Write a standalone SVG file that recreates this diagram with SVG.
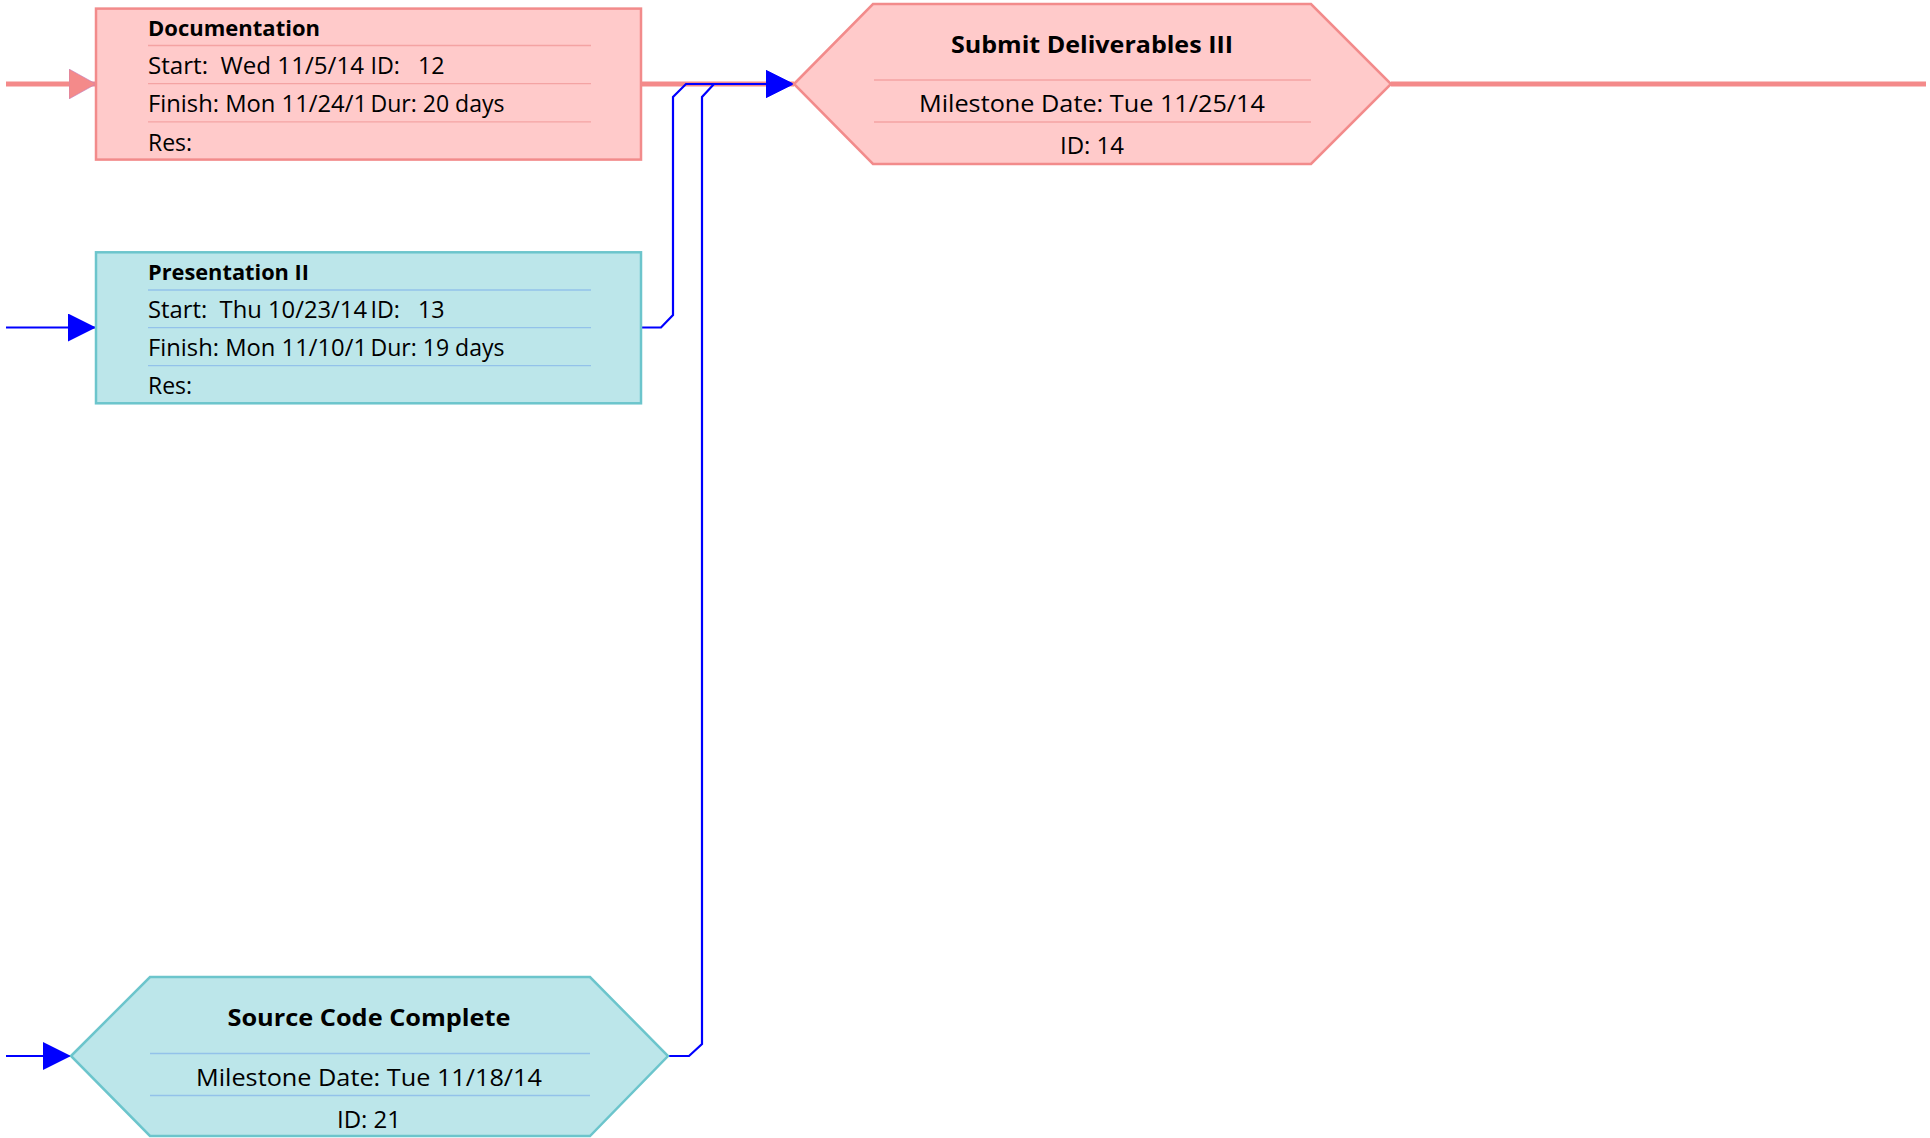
<svg xmlns="http://www.w3.org/2000/svg" width="1930" height="1138" viewBox="0 0 1930 1138">
<style>
text{font-family:"Open Sans","Noto Sans","Liberation Sans",sans-serif;fill:#000;white-space:pre}
.t{font-size:23px}
.b{font-size:21px;font-weight:bold}
.hb{font-size:24px;font-weight:bold;text-anchor:middle}
.h{font-size:24px;text-anchor:middle}
.pk{fill:#FFCACA;stroke:#F28B8B;stroke-width:2.5}
.cy{fill:#BCE6EA;stroke:#6CC5CC;stroke-width:2.5}
.sp{stroke:#F4A3A3;stroke-width:1.3}
.sc{stroke:#93C2EA;stroke-width:1.3}
.cp{fill:none;stroke:#F48A8A;stroke-width:5}
.cb{fill:none;stroke:#0000FF;stroke-width:2.2}
</style>
<defs>
<marker id="ap" markerWidth="27" markerHeight="30" refX="27" refY="15" orient="auto" markerUnits="userSpaceOnUse"><path d="M0,0 L27,15 L0,30 Z" fill="#F48A8A" stroke="#C080C0" stroke-width="0.6"/></marker>
<marker id="ab" markerWidth="28" markerHeight="28" refX="28" refY="14" orient="auto" markerUnits="userSpaceOnUse"><path d="M0,0 L28,14 L0,28 Z" fill="#0000FF"/></marker>
</defs>
<g id="connectors">
<path class="cp" d="M6,84 H96" marker-end="url(#ap)"/>
<path class="cp" d="M641,84 H794"/>
<path class="cp" d="M1391,84 H1926"/>
<path class="cb" d="M6,327.5 H96" marker-end="url(#ab)"/>
<path class="cb" d="M641,327.5 H661 L673,315 V97 L686,84 H794" marker-end="url(#ab)"/>
<path class="cb" d="M6,1056 H71" marker-end="url(#ab)"/>
<path class="cb" d="M668,1056 H689 L702,1044 V97 L714,84 H794" marker-end="url(#ab)"/>
</g>
<g id="node12">
<rect class="pk" x="96" y="8.6" width="545" height="151"/>
<line class="sp" x1="148" y1="45.5" x2="591" y2="45.5"/>
<line class="sp" x1="148" y1="83.7" x2="591" y2="83.7"/>
<line class="sp" x1="148" y1="121.9" x2="591" y2="121.9"/>
<text class="b" x="148" y="36" textLength="172" lengthAdjust="spacingAndGlyphs">Documentation</text>
<text class="t" x="148" y="74" textLength="216" lengthAdjust="spacingAndGlyphs">Start:  Wed 11/5/14</text>
<text class="t" x="370.5" y="74" textLength="74" lengthAdjust="spacingAndGlyphs">ID:   12</text>
<text class="t" x="148" y="112" textLength="219" lengthAdjust="spacingAndGlyphs">Finish: Mon 11/24/1</text>
<text class="t" x="370.5" y="112" textLength="134" lengthAdjust="spacingAndGlyphs">Dur: 20 days</text>
<text class="t" x="148" y="150.5">Res:</text>
</g>
<g id="node13">
<rect class="cy" x="96" y="252.3" width="545" height="151"/>
<line class="sc" x1="148" y1="290" x2="591" y2="290"/>
<line class="sc" x1="148" y1="327.6" x2="591" y2="327.6"/>
<line class="sc" x1="148" y1="365.6" x2="591" y2="365.6"/>
<text class="b" x="148" y="279.7" textLength="161" lengthAdjust="spacingAndGlyphs">Presentation II</text>
<text class="t" x="148" y="317.7" textLength="219" lengthAdjust="spacingAndGlyphs">Start:  Thu 10/23/14</text>
<text class="t" x="370.5" y="317.7" textLength="74" lengthAdjust="spacingAndGlyphs">ID:   13</text>
<text class="t" x="148" y="355.7" textLength="219" lengthAdjust="spacingAndGlyphs">Finish: Mon 11/10/1</text>
<text class="t" x="370.5" y="355.7" textLength="134" lengthAdjust="spacingAndGlyphs">Dur: 19 days</text>
<text class="t" x="148" y="394.2">Res:</text>
</g>
<g id="node14">
<polygon class="pk" points="794,84 873,4 1311,4 1391,84 1311,164 873,164"/>
<line class="sp" x1="874" y1="80" x2="1311" y2="80"/>
<line class="sp" x1="874" y1="122" x2="1311" y2="122"/>
<text class="hb" x="1092" y="52.5" textLength="282" lengthAdjust="spacingAndGlyphs">Submit Deliverables III</text>
<text class="h" x="1092" y="111.5" textLength="346" lengthAdjust="spacingAndGlyphs">Milestone Date: Tue 11/25/14</text>
<text class="h" x="1092" y="153.5">ID: 14</text>
</g>
<g id="node21">
<polygon class="cy" points="71,1056 150,977 590,977 668,1056 590,1136 150,1136"/>
<line class="sc" x1="150" y1="1053.5" x2="590" y2="1053.5"/>
<line class="sc" x1="150" y1="1095.5" x2="590" y2="1095.5"/>
<text class="hb" x="369" y="1026" textLength="283" lengthAdjust="spacingAndGlyphs">Source Code Complete</text>
<text class="h" x="369" y="1085.5" textLength="346" lengthAdjust="spacingAndGlyphs">Milestone Date: Tue 11/18/14</text>
<text class="h" x="369" y="1127.5">ID: 21</text>
</g>
</svg>
